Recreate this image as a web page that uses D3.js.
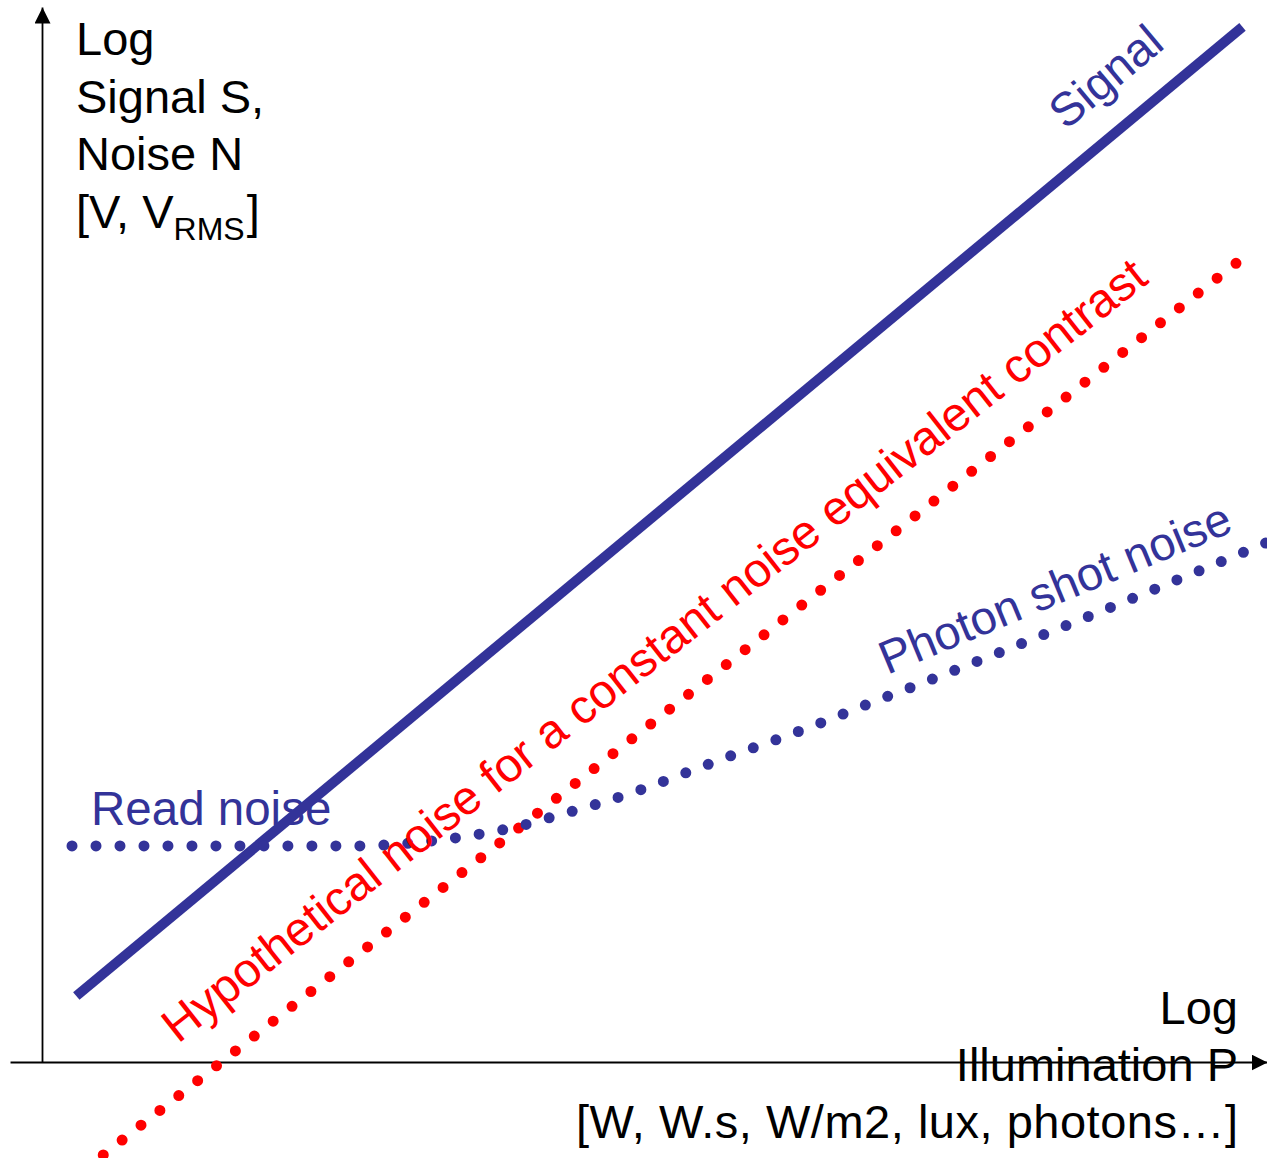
<!DOCTYPE html>
<html>
<head>
<meta charset="utf-8">
<script src="https://cdn.jsdelivr.net/npm/d3@7"></script>
<style>
  html, body { margin: 0; padding: 0; background: #ffffff; }
  svg { display: block; }
  text { font-family: "Liberation Sans", Arial, Helvetica, sans-serif; }
</style>
</head>
<body>
<script>
// Log illumination (x) vs log signal / noise (y), arbitrary decade units.
const signalLine = [[0.28, 0.563], [9.80, 8.830]];
const constantContrastNoise = [[0.50, -0.793], [9.75, 6.816]];
// Total temporal noise: flat read-noise floor, then photon shot noise (half slope).
const totalNoise = [
  [0.245, 1.843], [2.596, 1.843], [2.922, 1.860], [3.249, 1.894],
  [3.576, 1.945], [3.902, 2.013], [4.163, 2.090], [4.531, 2.201],
  [4.906, 2.329], [5.273, 2.474], [5.641, 2.619], [6.008, 2.755],
  [6.376, 2.900], [6.743, 3.054], [7.102, 3.199], [9.992, 4.428]
];
const yAxisLines = ["Log", "Signal S,", "Noise N"];
const xAxisLines = ["Log", "Illumination P", "[W, W.s, W/m2, lux, photons\u2026]"];

const W = 1267, H = 1158;
const BLUE = "#333399", RED = "#ff0000";

const x = d3.scaleLinear().domain([0, 10]).range([42, 1267]);
const y = d3.scaleLinear().domain([0, 9]).range([1062, 7]);

const svg = d3.select("body").append("svg")
  .attr("width", W).attr("height", H)
  .attr("viewBox", `0 0 ${W} ${H}`);

const defs = svg.append("defs");
defs.append("marker")
  .attr("id", "arrow")
  .attr("markerUnits", "userSpaceOnUse")
  .attr("viewBox", "0 0 16 16")
  .attr("refX", 16).attr("refY", 8)
  .attr("markerWidth", 16).attr("markerHeight", 16)
  .attr("orient", "auto")
  .append("path").attr("d", "M0,0 L16,8 L0,16 Z").attr("fill", "#000");

// Axes (no ticks, arrowheads at the open ends)
const xAxisG = svg.append("g").attr("transform", `translate(0,${y(0)})`)
  .call(d3.axisBottom(d3.scaleLinear().domain([-0.261, 10]).range([x(-0.261), x(10)]))
    .tickValues([]).tickSizeOuter(0));
xAxisG.select(".domain").attr("stroke", "#000").attr("stroke-width", 1.8)
  .attr("marker-end", "url(#arrow)");

const yAxisG = svg.append("g").attr("transform", `translate(${x(0)},0)`)
  .call(d3.axisLeft(d3.scaleLinear().domain([0, 9]).range([y(0), y(9)]))
    .tickValues([]).tickSizeOuter(0));
yAxisG.select(".domain").attr("stroke", "#000").attr("stroke-width", 1.8)
  .attr("marker-end", "url(#arrow)");

const line = d3.line().x(d => x(d[0])).y(d => y(d[1]));
const curve = d3.line().x(d => x(d[0])).y(d => y(d[1])).curve(d3.curveMonotoneX);

// Dotted stroke whose dots land on both ends of the path
function dotted(path, gap) {
  const len = path.node().getTotalLength();
  const n = Math.max(1, Math.round(len / gap));
  path.attr("stroke-dasharray", `0 ${(len - 0.5) / n}`);
}

// Signal
svg.append("path").attr("d", line(signalLine))
  .attr("fill", "none").attr("stroke", BLUE).attr("stroke-width", 10)
  .attr("stroke-linecap", "butt");

// Hypothetical constant-contrast noise (dotted)
svg.append("path").attr("d", line(constantContrastNoise))
  .attr("fill", "none").attr("stroke", RED).attr("stroke-width", 11)
  .attr("stroke-linecap", "round").call(dotted, 24);

// Read + photon shot noise (dotted)
svg.append("path").attr("d", curve(totalNoise))
  .attr("fill", "none").attr("stroke", BLUE).attr("stroke-width", 11)
  .attr("stroke-linecap", "round").call(dotted, 23.8);

// Axis titles
const yTitle = svg.append("text").attr("x", 76).attr("font-size", 47).attr("fill", "#000");
yAxisLines.forEach((t, i) => {
  yTitle.append("tspan").attr("x", 76).attr("y", 55 + i * 57.7).text(t);
});
const unitLine = svg.append("text").attr("x", 76).attr("y", 228)
  .attr("font-size", 47).attr("fill", "#000");
unitLine.append("tspan").text("[V, V");
unitLine.append("tspan").attr("font-size", 32).attr("dy", 12).text("RMS");
unitLine.append("tspan").attr("dx", 2).attr("dy", -12).text("]");

const xTitle = svg.append("text").attr("text-anchor", "end")
  .attr("font-size", 47).attr("fill", "#000");
xAxisLines.forEach((t, i) => {
  const ts = xTitle.append("tspan").attr("x", 1238).attr("y", 1024 + i * 57).text(t);
  if (i === 2) ts.attr("textLength", 662).attr("lengthAdjust", "spacing");
});

// Series labels
svg.append("text").attr("transform", "translate(1116,89) rotate(-39.8)")
  .attr("text-anchor", "middle").attr("font-size", 47).attr("fill", BLUE).text("Signal");

svg.append("text").attr("x", 91).attr("y", 825)
  .attr("font-size", 47.5).attr("fill", BLUE).text("Read noise");

svg.append("text").attr("transform", "translate(1061,603) rotate(-22.5)")
  .attr("text-anchor", "middle").attr("font-size", 47).attr("fill", BLUE).text("Photon shot noise");

svg.append("text").attr("transform", "translate(664,663) rotate(-38.1)")
  .attr("text-anchor", "middle").attr("font-size", 47.8).attr("fill", RED)
  .text("Hypothetical noise for a constant noise equivalent contrast");
</script>
</body>
</html>
